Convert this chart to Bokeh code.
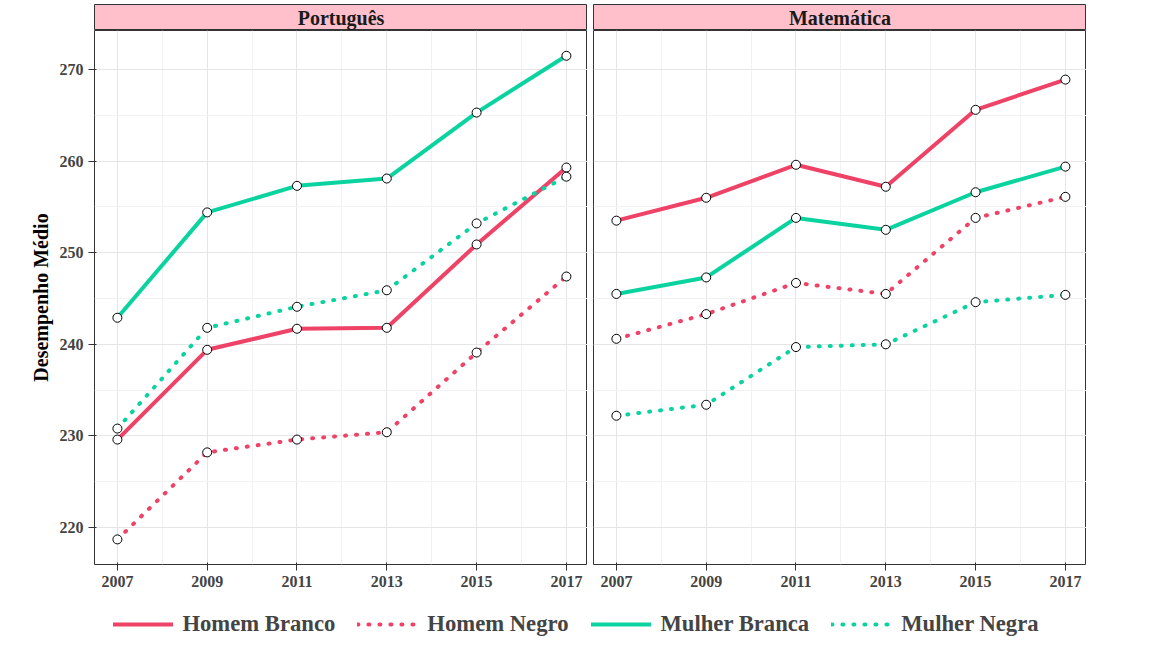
from bokeh.plotting import figure
from bokeh.layouts import column, row
from bokeh.models import FixedTicker, Range1d, Legend, LegendItem
from bokeh.core.properties import value
from bokeh.embed import file_html
from bokeh.resources import INLINE

years = [2007, 2009, 2011, 2013, 2015, 2017]
series = ["Homem Branco", "Homem Negro", "Mulher Branca", "Mulher Negra"]
port_hb = [229.6, 239.4, 241.7, 241.8, 250.9, 259.3]
port_hn = [218.7, 228.2, 229.6, 230.4, 239.1, 247.4]
port_mb = [242.9, 254.4, 257.3, 258.1, 265.3, 271.5]
port_mn = [230.8, 241.8, 244.1, 245.9, 253.2, 258.3]
mat_hb = [253.5, 256.0, 259.6, 257.2, 265.6, 268.9]
mat_hn = [240.6, 243.3, 246.7, 245.5, 253.8, 256.1]
mat_mb = [245.5, 247.3, 253.8, 252.5, 256.6, 259.4]
mat_mn = [232.2, 233.4, 239.7, 240.0, 244.6, 245.4]

RED = "#EE4266"
GREEN = "#0AD3A0"
DOT = "1 10"
styles = [(RED, "solid"), (RED, DOT), (GREEN, "solid"), (GREEN, DOT)]
FONT = "Liberation Serif"

def strip(title, left):
    s = figure(frame_width=493, frame_height=26, output_backend="svg", toolbar_location=None,
               x_range=Range1d(0, 1), y_range=Range1d(0, 1),
               min_border_left=94 if left else 6, min_border_right=0,
               min_border_top=4, min_border_bottom=0)
    s.axis.visible = False
    s.grid.visible = False
    s.background_fill_color = "pink"
    s.outline_line_color = "#333333"
    s.text([0.5], [0.5], text=[title], text_align="center", text_baseline="middle",
           text_font=value(FONT), text_font_size="15pt", text_font_style="bold", text_color="#1a1a1a")
    return s

def panel(data, left):
    p = figure(frame_width=493, frame_height=534, output_backend="svg", toolbar_location=None,
               x_range=Range1d(2006.49, 2017.47), y_range=Range1d(215.96, 274.26),
               min_border_left=94 if left else 6, min_border_right=0, min_border_top=0)
    p.outline_line_color = "#333333"
    p.xaxis.ticker = FixedTicker(ticks=years, minor_ticks=[2008, 2010, 2012, 2014, 2016])
    p.yaxis.ticker = FixedTicker(ticks=[220, 230, 240, 250, 260, 270],
                                 minor_ticks=[225, 235, 245, 255, 265])
    p.xgrid.minor_grid_line_color = "#F2F2F2"
    p.ygrid.minor_grid_line_color = "#F2F2F2"
    p.xgrid.grid_line_color = "#E5E5E5"
    p.ygrid.grid_line_color = "#E5E5E5"
    for ax in (p.xaxis, p.yaxis):
        ax.major_label_text_font = FONT
        ax.major_label_text_font_size = "12pt"
        ax.major_label_text_font_style = "bold"
        ax.major_label_text_color = "#444444"
        ax.minor_tick_line_color = None
        ax.axis_line_color = None
        ax.major_tick_line_color = "#333333"
    if left:
        p.yaxis.axis_label = "Desempenho Médio"
        p.yaxis.axis_label_text_font = FONT
        p.yaxis.axis_label_text_font_size = "15pt"
        p.yaxis.axis_label_text_font_style = "bold"
        p.yaxis.axis_label_text_color = "black"
    else:
        p.yaxis.visible = False
    for vals, (c, d) in zip(data, styles):
        p.line(years, vals, line_color=c, line_dash=d, line_width=4, line_cap="round")
    for vals in data:
        p.scatter(years, vals, size=9, fill_color="white", line_color="black", line_width=1)
    return p

c1 = column(strip("Português", True), panel([port_hb, port_hn, port_mb, port_mn], True), spacing=0)
c2 = column(strip("Matemática", False), panel([mat_hb, mat_hn, mat_mb, mat_mn], False), spacing=0)

lg = figure(width=1151, height=70, output_backend="svg", toolbar_location=None,
            x_range=Range1d(0, 1), y_range=Range1d(0, 1))
lg.axis.visible = False
lg.grid.visible = False
lg.outline_line_color = None
items = []
for name, (c, d) in zip(series, styles):
    r = lg.line([5, 6], [5, 6], line_color=c, line_dash=d, line_width=4, line_cap="round")
    items.append(LegendItem(label=name, renderers=[r]))
leg = Legend(items=items, orientation="horizontal", location="center",
             label_text_font=FONT, label_text_font_size="17pt", label_text_font_style="bold",
             glyph_width=60, spacing=22, border_line_color=None, label_standoff=10,
             background_fill_alpha=0)
lg.add_layout(leg, "center")

layout = column(row(c1, c2, spacing=0), lg, spacing=0)
open("out.html", "w").write(file_html(layout, INLINE))
